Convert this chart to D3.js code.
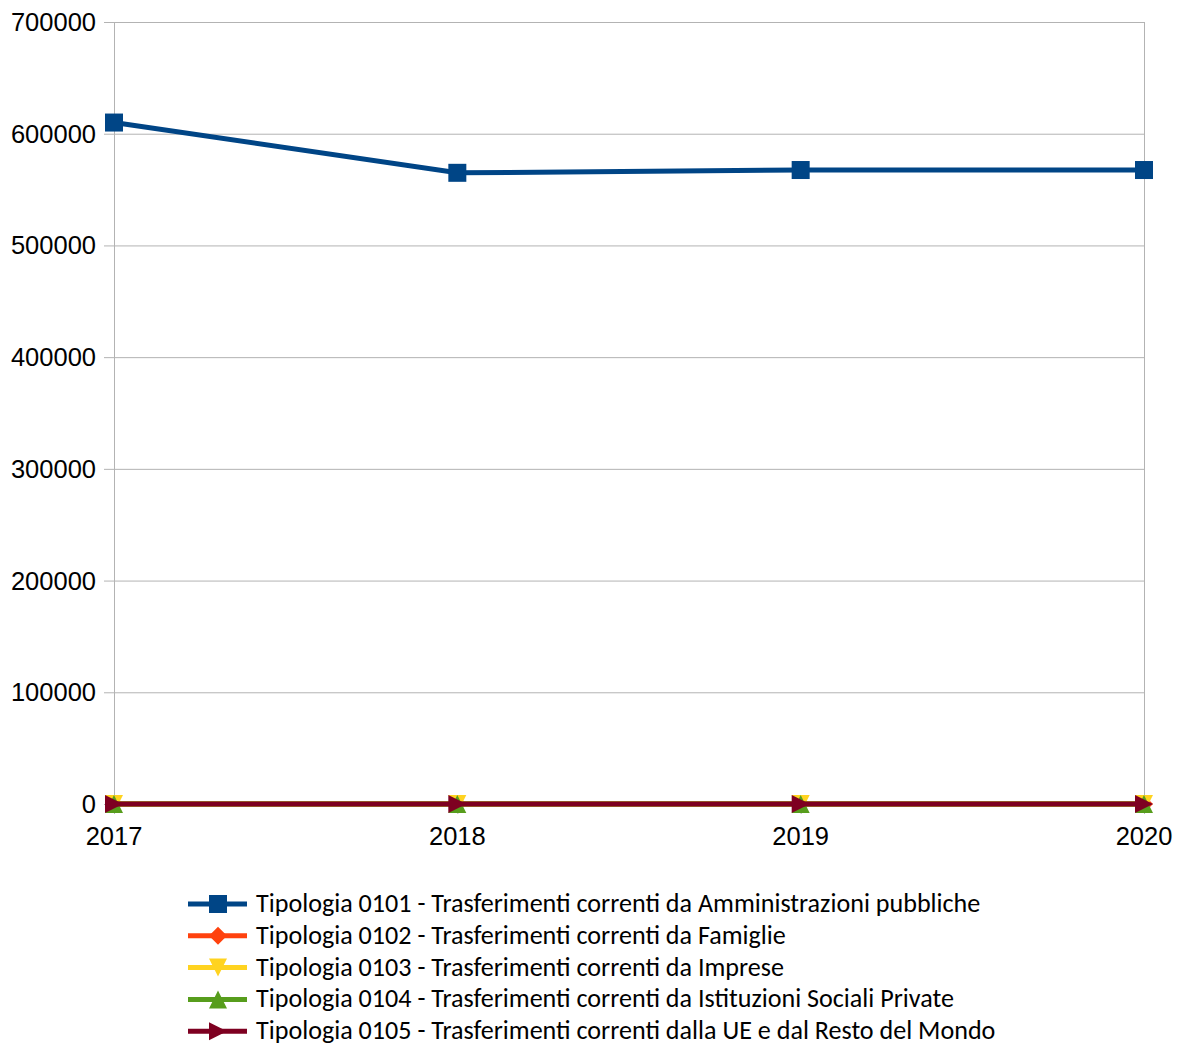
<!DOCTYPE html>
<html><head><meta charset="utf-8">
<script src="https://cdn.jsdelivr.net/npm/d3@7"></script>
<style>body{margin:0;background:#fff}</style>
</head><body>
<script>
const years = ["2017","2018","2019","2020"];
const seriesNames = [
 "Tipologia 0101 - Trasferimenti correnti da Amministrazioni pubbliche",
 "Tipologia 0102 - Trasferimenti correnti da Famiglie",
 "Tipologia 0103 - Trasferimenti correnti da Imprese",
 "Tipologia 0104 - Trasferimenti correnti da Istituzioni Sociali Private",
 "Tipologia 0105 - Trasferimenti correnti dalla UE e dal Resto del Mondo"
];
const v0101 = [610000, 565000, 567500, 567500];
const v0102 = [0, 0, 0, 0];
const v0103 = [0, 0, 0, 0];
const v0104 = [0, 0, 0, 0];
const v0105 = [0, 0, 0, 0];
const yTicks = [0,100000,200000,300000,400000,500000,600000,700000];
const colors = ["#004586","#ff420e","#ffd320","#579d1c","#7e0021"];
const shapes = ["square","diamond","down","up","right"];
const allValues = [v0101,v0102,v0103,v0104,v0105];

const W=1177,H=1046;
const svg=d3.select("body").append("svg").attr("width",W).attr("height",H);
const x=d3.scalePoint().domain(years).range([114,1144]);
const y=d3.scaleLinear().domain([0,700000]).range([804,22]);

// grid
svg.append("g").selectAll("line").data(yTicks).join("line")
 .attr("x1",104).attr("x2",1144).attr("y1",d=>y(d)+0.5).attr("y2",d=>y(d)+0.5)
 .attr("stroke","#b3b3b3").attr("stroke-width",1);
svg.append("line").attr("x1",114.5).attr("x2",114.5).attr("y1",22).attr("y2",814).attr("stroke","#b3b3b3");
svg.append("line").attr("x1",1144.5).attr("x2",1144.5).attr("y1",22).attr("y2",814).attr("stroke","#b3b3b3");
svg.append("g").selectAll("line").data(years).join("line")
 .attr("x1",d=>x(d)+0.5).attr("x2",d=>x(d)+0.5).attr("y1",804).attr("y2",814).attr("stroke","#b3b3b3");

// y labels
svg.append("g").selectAll("text").data(yTicks).join("text")
 .attr("x",96).attr("y",d=>y(d)+9).attr("text-anchor","end")
 .attr("font-family","Liberation Sans, Arial, sans-serif").attr("font-size",25.5).attr("fill","#000")
 .text(d=>d);
// x labels
svg.append("g").selectAll("text").data(years).join("text")
 .attr("x",d=>x(d)).attr("y",845).attr("text-anchor","middle")
 .attr("font-family","Liberation Sans, Arial, sans-serif").attr("font-size",25.5).attr("fill","#000")
 .text(d=>d);

function marker(g,shape,cx,cy,color){
  let p;
  if(shape==="square"){ g.append("rect").attr("x",cx-9).attr("y",cy-9).attr("width",18).attr("height",18).attr("fill",color); return; }
  if(shape==="diamond") p=[[cx,cy-9],[cx+9,cy],[cx,cy+9],[cx-9,cy]];
  if(shape==="down") p=[[cx-9,cy-9],[cx+9,cy-9],[cx,cy+9]];
  if(shape==="up") p=[[cx-9,cy+9],[cx+9,cy+9],[cx,cy-9]];
  if(shape==="right") p=[[cx-9,cy-9],[cx+9,cy],[cx-9,cy+9]];
  g.append("polygon").attr("points",p.map(q=>q.join(",")).join(" ")).attr("fill",color);
}

const line=d3.line().x((d,i)=>x(years[i])).y(d=>y(d));
allValues.forEach((vals,k)=>{
  const g=svg.append("g");
  g.append("path").datum(vals).attr("d",line).attr("fill","none").attr("stroke",colors[k]).attr("stroke-width",5);
  vals.forEach((v,i)=>marker(g,shapes[k],x(years[i]),y(v),colors[k]));
});

// legend
const lg=svg.append("g");
seriesNames.forEach((n,k)=>{
  const cy=904+k*31.8;
  lg.append("line").attr("x1",188).attr("x2",247).attr("y1",cy).attr("y2",cy).attr("stroke",colors[k]).attr("stroke-width",5);
  marker(lg,shapes[k],218,cy,colors[k]);
  lg.append("text").attr("x",256).attr("y",cy+8).attr("font-family","Carlito, Lato, sans-serif").attr("font-size",26.1).attr("fill","#000").text(n);
});
</script>
</body></html>
